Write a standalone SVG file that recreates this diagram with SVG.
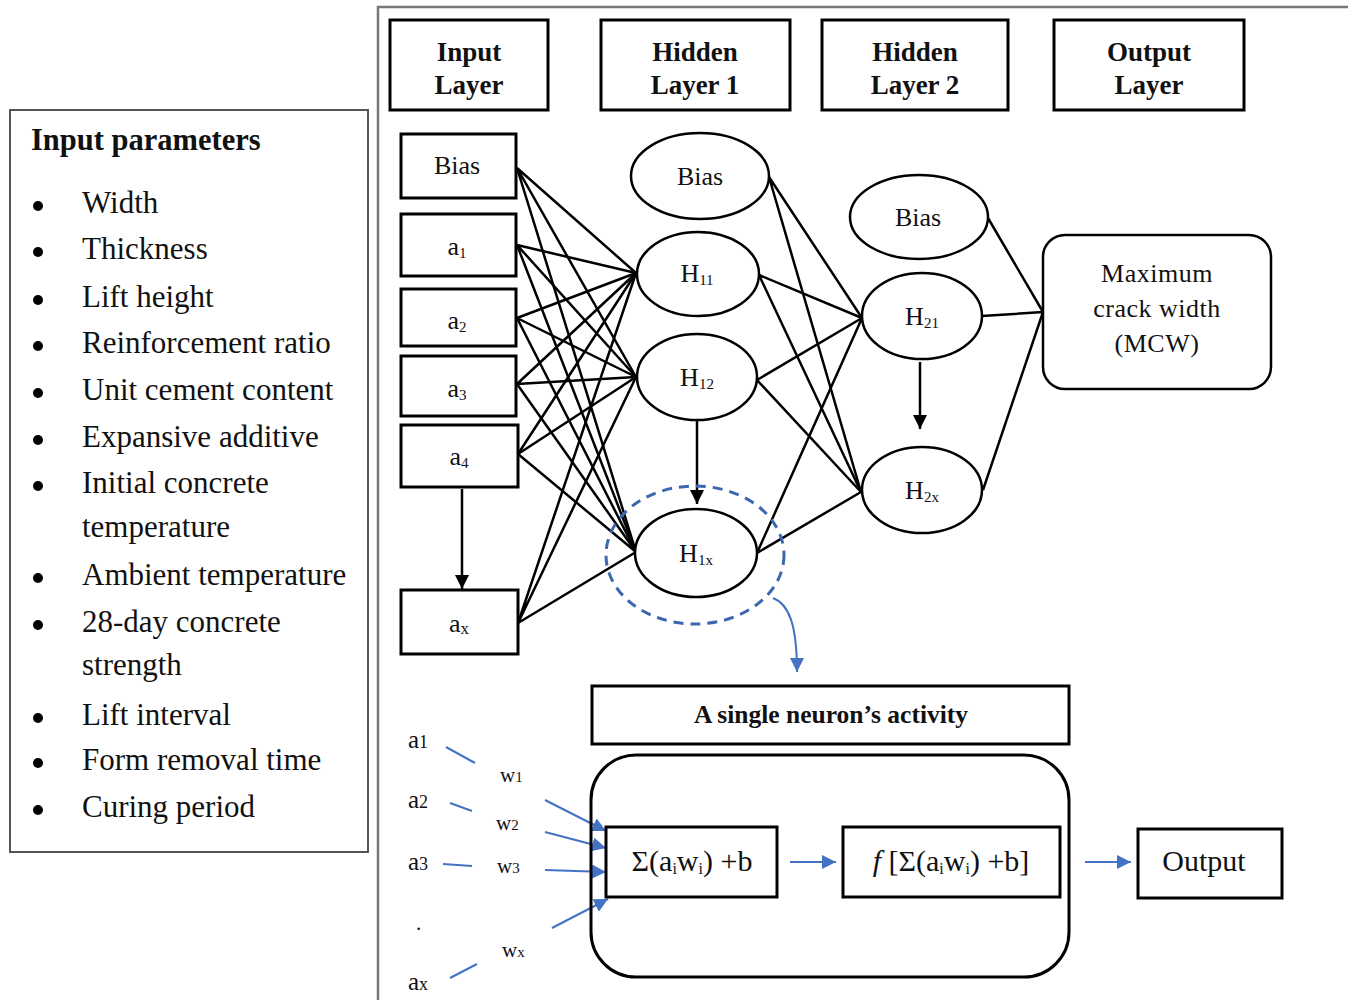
<svg xmlns="http://www.w3.org/2000/svg" width="1348" height="1000" viewBox="0 0 1348 1000">
<style>
.box{fill:#fff;stroke:#000;stroke-width:3}
.ell{fill:#fff;stroke:#000;stroke-width:2.5}
.ln{stroke:#000;stroke-width:2.5;fill:none}
.bl{stroke:#4472C4;stroke-width:2;fill:none}
text{font-family:"Liberation Serif","Times New Roman",serif;fill:#111}
.hd{font-size:27px;font-weight:bold;text-anchor:middle}
.li{font-size:31px}
.nd{font-size:26px;text-anchor:middle}
.in{font-size:25px}
.w{font-size:21px}
.fm{font-size:30px;text-anchor:middle}
</style>
<defs>
<marker id="ak" markerUnits="userSpaceOnUse" markerWidth="16" markerHeight="16" refX="14" refY="7" orient="auto"><path d="M0,0 L14,7 L0,14 z" fill="#000"/></marker>
<marker id="ab" markerUnits="userSpaceOnUse" markerWidth="16" markerHeight="16" refX="14" refY="7" orient="auto"><path d="M0,0 L14,7 L0,14 z" fill="#4472C4"/></marker>
</defs>

<!-- outer frame -->
<path d="M378,1000 L378,7 L1348,7" fill="none" stroke="#777" stroke-width="2.5"/>

<!-- left panel -->
<g id="input-parameters">
<rect x="10" y="110" width="358" height="742" fill="#fff" stroke="#555" stroke-width="2"/>
<text x="31" y="150" style="font-size:30.5px;font-weight:bold">Input parameters</text>
<g fill="#000">
<circle cx="38" cy="206" r="5"/><circle cx="38" cy="252" r="5"/><circle cx="38" cy="300" r="5"/><circle cx="38" cy="346" r="5"/><circle cx="38" cy="393" r="5"/><circle cx="38" cy="440" r="5"/><circle cx="38" cy="486" r="5"/><circle cx="38" cy="578" r="5"/><circle cx="38" cy="625" r="5"/><circle cx="38" cy="718" r="5"/><circle cx="38" cy="763" r="5"/><circle cx="38" cy="810" r="5"/>
</g>
<text class="li" x="82" y="213">Width</text>
<text class="li" x="82" y="259">Thickness</text>
<text class="li" x="82" y="307">Lift height</text>
<text class="li" x="82" y="353">Reinforcement ratio</text>
<text class="li" x="82" y="400">Unit cement content</text>
<text class="li" x="82" y="447">Expansive additive</text>
<text class="li" x="82" y="493">Initial concrete</text>
<text class="li" x="82" y="537">temperature</text>
<text class="li" x="82" y="585">Ambient temperature</text>
<text class="li" x="82" y="632">28-day concrete</text>
<text class="li" x="82" y="675">strength</text>
<text class="li" x="82" y="725">Lift interval</text>
<text class="li" x="82" y="770">Form removal time</text>
<text class="li" x="82" y="817">Curing period</text>
</g>

<!-- headers -->
<g id="hdr-input"><rect class="box" x="390" y="20" width="158" height="90"/><text class="hd" x="469" y="61">Input</text><text class="hd" x="469" y="94">Layer</text></g>
<g id="hdr-hidden1"><rect class="box" x="601" y="20" width="189" height="90"/><text class="hd" x="695" y="61">Hidden</text><text class="hd" x="695" y="94">Layer 1</text></g>
<g id="hdr-hidden2"><rect class="box" x="822" y="20" width="186" height="90"/><text class="hd" x="915" y="61">Hidden</text><text class="hd" x="915" y="94">Layer 2</text></g>
<g id="hdr-output"><rect class="box" x="1054" y="20" width="190" height="90"/><text class="hd" x="1149" y="61">Output</text><text class="hd" x="1149" y="94">Layer</text></g>

<!-- connectors -->
<g id="connectors">
<g class="ln">
<!-- input -> hidden1 -->
<path d="M517,168 L636,273 M517,168 L636,377 M517,168 L636,552"/>
<path d="M517,245 L636,273 M517,245 L636,377 M517,245 L636,552"/>
<path d="M517,318 L636,273 M517,318 L636,377 M517,318 L636,552"/>
<path d="M517,384 L636,273 M517,384 L636,377 M517,384 L636,552"/>
<path d="M518,454 L636,273 M518,454 L636,377 M518,454 L636,552"/>
<path d="M518,623 L636,273 M518,623 L636,377 M518,623 L636,552"/>
<!-- hidden1 -> hidden2 -->
<path d="M769,177 L862,318 M769,177 L861,492"/>
<path d="M759,275 L862,318 M759,275 L861,492"/>
<path d="M757,380 L862,318 M757,380 L861,492"/>
<path d="M757,553 L862,318 M757,553 L861,492"/>
<!-- hidden2 -> output -->
<path d="M988,218 L1043,312 M982,316 L1043,312 M983,490 L1043,312"/>
</g>
<line class="ln" x1="462" y1="489" x2="462" y2="589" marker-end="url(#ak)"/>
<line class="ln" x1="697" y1="421" x2="697" y2="504" marker-end="url(#ak)"/>
<line class="ln" x1="920" y1="362" x2="920" y2="429" marker-end="url(#ak)"/>
<!-- highlight -->
<ellipse cx="695" cy="555" rx="89" ry="69" fill="none" stroke="#3C67AE" stroke-width="3" stroke-dasharray="10,7"/>
<path d="M773,598 C789,604 797,625 797,672" fill="none" stroke="#4472C4" stroke-width="2" marker-end="url(#ab)"/>
<!-- neuron inputs -->
<g class="bl">
<path d="M446,747 L475,763 M450,803 L472,811 M443,864 L472,866 M450,978 L477,964"/>
</g>
<line class="bl" x1="545" y1="800" x2="606" y2="831" marker-end="url(#ab)"/>
<line class="bl" x1="545" y1="832" x2="606" y2="848" marker-end="url(#ab)"/>
<line class="bl" x1="545" y1="870" x2="606" y2="872" marker-end="url(#ab)"/>
<line class="bl" x1="552" y1="928" x2="608" y2="899" marker-end="url(#ab)"/>
<line class="bl" x1="790" y1="862" x2="836" y2="862" marker-end="url(#ab)"/>
<line class="bl" x1="1085" y1="862" x2="1131" y2="862" marker-end="url(#ab)"/>
</g>

<!-- input nodes -->
<g id="in-bias"><rect class="box" x="401" y="134" width="115" height="64"/><text class="nd" x="457" y="174">Bias</text></g>
<g id="in-a1"><rect class="box" x="401" y="214" width="115" height="62"/><text class="nd" x="457" y="255">a<tspan font-size="15" dy="3">1</tspan></text></g>
<g id="in-a2"><rect class="box" x="401" y="289" width="115" height="57"/><text class="nd" x="457" y="329">a<tspan font-size="15" dy="3">2</tspan></text></g>
<g id="in-a3"><rect class="box" x="401" y="356" width="115" height="60"/><text class="nd" x="457" y="397">a<tspan font-size="15" dy="3">3</tspan></text></g>
<g id="in-a4"><rect class="box" x="401" y="425" width="117" height="62"/><text class="nd" x="459" y="465">a<tspan font-size="15" dy="3">4</tspan></text></g>
<g id="in-ax"><rect class="box" x="401" y="590" width="117" height="64"/><text class="nd" x="459" y="632">a<tspan font-size="17" dy="2">x</tspan></text></g>

<!-- hidden layer 1 -->
<g id="h1-bias"><ellipse class="ell" cx="700" cy="176" rx="69" ry="43"/><text class="nd" x="700" y="185">Bias</text></g>
<g id="h11"><ellipse class="ell" cx="698" cy="274" rx="61" ry="42"/><text class="nd" x="697" y="282">H<tspan font-size="15" dy="3">11</tspan></text></g>
<g id="h12"><ellipse class="ell" cx="697" cy="377" rx="60" ry="43"/><text class="nd" x="697" y="386">H<tspan font-size="15" dy="3">12</tspan></text></g>
<g id="h1x"><ellipse class="ell" cx="696" cy="553" rx="61" ry="44"/><text class="nd" x="696" y="562">H<tspan font-size="15" dy="3">1x</tspan></text></g>

<!-- hidden layer 2 -->
<g id="h2-bias"><ellipse class="ell" cx="919" cy="217" rx="69" ry="42"/><text class="nd" x="918" y="226">Bias</text></g>
<g id="h21"><ellipse class="ell" cx="922" cy="316" rx="60" ry="43"/><text class="nd" x="922" y="325">H<tspan font-size="15" dy="3">21</tspan></text></g>
<g id="h2x"><ellipse class="ell" cx="922" cy="490" rx="60" ry="43"/><text class="nd" x="922" y="499">H<tspan font-size="15" dy="3">2x</tspan></text></g>

<!-- output -->
<g id="mcw"><rect class="box" x="1043" y="235" width="228" height="154" rx="22" style="stroke-width:2.5"/>
<text class="nd" x="1157" y="282" letter-spacing="0.5">Maximum</text>
<text class="nd" x="1157" y="317" letter-spacing="0.5">crack width</text>
<text class="nd" x="1157" y="352" letter-spacing="0.5">(MCW)</text></g>

<!-- single neuron -->
<g id="neuron-title"><rect class="box" x="592" y="686" width="477" height="58"/><text x="831" y="723" style="font-size:25.5px;font-weight:bold;text-anchor:middle">A single neuron’s activity</text></g>
<g id="neuron-body"><rect x="591" y="755" width="478" height="222" rx="45" fill="none" stroke="#000" stroke-width="3"/></g>
<g id="sum"><rect class="box" x="606" y="827" width="171" height="70"/><text class="fm" x="692" y="871">Σ(a<tspan font-size="16" dy="3">i</tspan><tspan dy="-3">w</tspan><tspan font-size="16" dy="3">i</tspan><tspan dy="-3">) +b</tspan></text></g>
<g id="act"><rect class="box" x="843" y="827" width="217" height="70"/><text class="fm" x="951" y="871"><tspan font-style="italic">f</tspan> [Σ(a<tspan font-size="16" dy="3">i</tspan><tspan dy="-3">w</tspan><tspan font-size="16" dy="3">i</tspan><tspan dy="-3">) +b]</tspan></text></g>
<g id="out"><rect class="box" x="1138" y="829" width="144" height="69"/><text class="fm" x="1204" y="871">Output</text></g>

<g id="neuron-inputs">
<text class="in" x="408" y="748">a<tspan font-size="18">1</tspan></text>
<text class="in" x="408" y="808">a<tspan font-size="18">2</tspan></text>
<text class="in" x="408" y="870">a<tspan font-size="18">3</tspan></text>
<text class="w" x="416" y="930">.</text>
<text class="in" x="408" y="990">a<tspan font-size="18">x</tspan></text>
<text class="w" x="500" y="782">w<tspan font-size="15">1</tspan></text>
<text class="w" x="496" y="830">w<tspan font-size="15">2</tspan></text>
<text class="w" x="497" y="873">w<tspan font-size="15">3</tspan></text>
<text class="w" x="502" y="957">w<tspan font-size="15">x</tspan></text>
</g>
</svg>
